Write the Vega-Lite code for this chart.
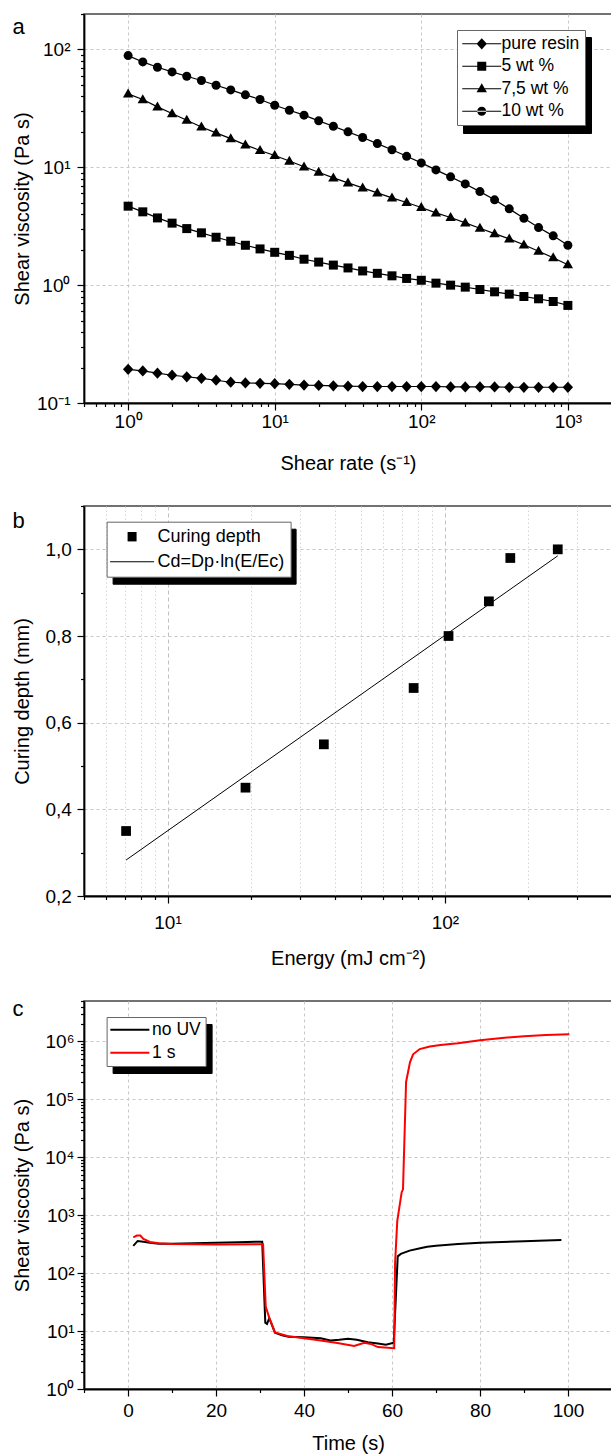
{
  "$schema": "https://vega.github.io/schema/vega-lite/v6.json",
  "background": "white",
  "padding": {"left": 11, "top": 4, "right": 0, "bottom": 0},
  "spacing": 22,
  "resolve": {
    "scale": {"x": "independent", "y": "independent", "shape": "independent", "color": "independent", "opacity": "independent"},
    "legend": {"shape": "independent", "color": "independent", "opacity": "independent"}
  },
  "config": {
    "font": "Liberation Sans",
    "view": {"stroke": "#444", "strokeWidth": 1.5},
    "axis": {
      "domainColor": "black", "domainWidth": 1.8, "tickColor": "black", "tickWidth": 1.2,
      "labelColor": "black", "titleColor": "black", "labelFontSize": 19, "titleFontSize": 20,
      "titleFontWeight": "normal", "labelFont": "Liberation Sans", "titleFont": "Liberation Sans",
      "grid": true, "gridColor": "#c8c8c8", "gridDash": [3, 3], "gridWidth": 1,
      "labelOverlap": false, "labelFlush": false, "labelBound": false
    },
    "legend": {"labelFont": "Liberation Sans", "labelColor": "black", "fillColor": "white", "strokeColor": "#666", "strokeWidth": 1},
    "title": {"font": "Liberation Sans", "fontSize": 22, "fontWeight": "normal", "color": "black", "anchor": "start", "frame": "bounds", "baseline": "alphabetic"}
  },
  "vconcat": [
    {
      "width": 528, "height": 389,
      "title": {"text": "a", "offset": -34},
      "data": {"values": [
        {"rate": 1, "viscosity": 88.7, "sample": "10 wt %"}, {"rate": 1.259, "viscosity": 78.4, "sample": "10 wt %"}, {"rate": 1.585, "viscosity": 70.6, "sample": "10 wt %"}, {"rate": 1.995, "viscosity": 64.5, "sample": "10 wt %"}, {"rate": 2.512, "viscosity": 59.3, "sample": "10 wt %"}, {"rate": 3.162, "viscosity": 54.5, "sample": "10 wt %"}, {"rate": 3.981, "viscosity": 49.7, "sample": "10 wt %"}, {"rate": 5.012, "viscosity": 45.4, "sample": "10 wt %"}, {"rate": 6.31, "viscosity": 41.2, "sample": "10 wt %"}, {"rate": 7.943, "viscosity": 37.6, "sample": "10 wt %"},
        {"rate": 10, "viscosity": 33.6, "sample": "10 wt %"}, {"rate": 12.59, "viscosity": 30.5, "sample": "10 wt %"}, {"rate": 15.85, "viscosity": 27.7, "sample": "10 wt %"}, {"rate": 19.95, "viscosity": 24.8, "sample": "10 wt %"}, {"rate": 25.12, "viscosity": 22.3, "sample": "10 wt %"}, {"rate": 31.62, "viscosity": 20.0, "sample": "10 wt %"}, {"rate": 39.81, "viscosity": 17.9, "sample": "10 wt %"}, {"rate": 50.12, "viscosity": 15.9, "sample": "10 wt %"}, {"rate": 63.1, "viscosity": 14.1, "sample": "10 wt %"}, {"rate": 79.43, "viscosity": 12.4, "sample": "10 wt %"},
        {"rate": 100, "viscosity": 10.9, "sample": "10 wt %"}, {"rate": 125.9, "viscosity": 9.51, "sample": "10 wt %"}, {"rate": 158.5, "viscosity": 8.3, "sample": "10 wt %"}, {"rate": 199.5, "viscosity": 7.23, "sample": "10 wt %"}, {"rate": 251.2, "viscosity": 6.22, "sample": "10 wt %"}, {"rate": 316.2, "viscosity": 5.3, "sample": "10 wt %"}, {"rate": 398.1, "viscosity": 4.44, "sample": "10 wt %"}, {"rate": 501.2, "viscosity": 3.7, "sample": "10 wt %"}, {"rate": 631, "viscosity": 3.08, "sample": "10 wt %"}, {"rate": 794.3, "viscosity": 2.62, "sample": "10 wt %"}, {"rate": 1000, "viscosity": 2.18, "sample": "10 wt %"},
        {"rate": 1, "viscosity": 42.0, "sample": "7,5 wt %"}, {"rate": 1.259, "viscosity": 37.6, "sample": "7,5 wt %"}, {"rate": 1.585, "viscosity": 32.6, "sample": "7,5 wt %"}, {"rate": 1.995, "viscosity": 28.6, "sample": "7,5 wt %"}, {"rate": 2.512, "viscosity": 25.1, "sample": "7,5 wt %"}, {"rate": 3.162, "viscosity": 22.0, "sample": "7,5 wt %"}, {"rate": 3.981, "viscosity": 19.6, "sample": "7,5 wt %"}, {"rate": 5.012, "viscosity": 17.5, "sample": "7,5 wt %"}, {"rate": 6.31, "viscosity": 15.5, "sample": "7,5 wt %"}, {"rate": 7.943, "viscosity": 13.9, "sample": "7,5 wt %"},
        {"rate": 10, "viscosity": 12.6, "sample": "7,5 wt %"}, {"rate": 12.59, "viscosity": 11.3, "sample": "7,5 wt %"}, {"rate": 15.85, "viscosity": 10.1, "sample": "7,5 wt %"}, {"rate": 19.95, "viscosity": 9.09, "sample": "7,5 wt %"}, {"rate": 25.12, "viscosity": 8.13, "sample": "7,5 wt %"}, {"rate": 31.62, "viscosity": 7.38, "sample": "7,5 wt %"}, {"rate": 39.81, "viscosity": 6.7, "sample": "7,5 wt %"}, {"rate": 50.12, "viscosity": 6.07, "sample": "7,5 wt %"}, {"rate": 63.1, "viscosity": 5.51, "sample": "7,5 wt %"}, {"rate": 79.43, "viscosity": 5.03, "sample": "7,5 wt %"},
        {"rate": 100, "viscosity": 4.56, "sample": "7,5 wt %"}, {"rate": 125.9, "viscosity": 4.11, "sample": "7,5 wt %"}, {"rate": 158.5, "viscosity": 3.75, "sample": "7,5 wt %"}, {"rate": 199.5, "viscosity": 3.38, "sample": "7,5 wt %"}, {"rate": 251.2, "viscosity": 3.04, "sample": "7,5 wt %"}, {"rate": 316.2, "viscosity": 2.74, "sample": "7,5 wt %"}, {"rate": 398.1, "viscosity": 2.47, "sample": "7,5 wt %"}, {"rate": 501.2, "viscosity": 2.2, "sample": "7,5 wt %"}, {"rate": 631, "viscosity": 1.94, "sample": "7,5 wt %"}, {"rate": 794.3, "viscosity": 1.71, "sample": "7,5 wt %"}, {"rate": 1000, "viscosity": 1.49, "sample": "7,5 wt %"},
        {"rate": 1, "viscosity": 4.68, "sample": "5 wt %"}, {"rate": 1.259, "viscosity": 4.19, "sample": "5 wt %"}, {"rate": 1.585, "viscosity": 3.72, "sample": "5 wt %"}, {"rate": 1.995, "viscosity": 3.36, "sample": "5 wt %"}, {"rate": 2.512, "viscosity": 3.02, "sample": "5 wt %"}, {"rate": 3.162, "viscosity": 2.78, "sample": "5 wt %"}, {"rate": 3.981, "viscosity": 2.55, "sample": "5 wt %"}, {"rate": 5.012, "viscosity": 2.36, "sample": "5 wt %"}, {"rate": 6.31, "viscosity": 2.18, "sample": "5 wt %"}, {"rate": 7.943, "viscosity": 2.03, "sample": "5 wt %"},
        {"rate": 10, "viscosity": 1.9, "sample": "5 wt %"}, {"rate": 12.59, "viscosity": 1.79, "sample": "5 wt %"}, {"rate": 15.85, "viscosity": 1.66, "sample": "5 wt %"}, {"rate": 19.95, "viscosity": 1.57, "sample": "5 wt %"}, {"rate": 25.12, "viscosity": 1.48, "sample": "5 wt %"}, {"rate": 31.62, "viscosity": 1.4, "sample": "5 wt %"}, {"rate": 39.81, "viscosity": 1.32, "sample": "5 wt %"}, {"rate": 50.12, "viscosity": 1.26, "sample": "5 wt %"}, {"rate": 63.1, "viscosity": 1.2, "sample": "5 wt %"}, {"rate": 79.43, "viscosity": 1.14, "sample": "5 wt %"},
        {"rate": 100, "viscosity": 1.1, "sample": "5 wt %"}, {"rate": 125.9, "viscosity": 1.04, "sample": "5 wt %"}, {"rate": 158.5, "viscosity": 1.0, "sample": "5 wt %"}, {"rate": 199.5, "viscosity": 0.962, "sample": "5 wt %"}, {"rate": 251.2, "viscosity": 0.919, "sample": "5 wt %"}, {"rate": 316.2, "viscosity": 0.878, "sample": "5 wt %"}, {"rate": 398.1, "viscosity": 0.839, "sample": "5 wt %"}, {"rate": 501.2, "viscosity": 0.801, "sample": "5 wt %"}, {"rate": 631, "viscosity": 0.766, "sample": "5 wt %"}, {"rate": 794.3, "viscosity": 0.727, "sample": "5 wt %"}, {"rate": 1000, "viscosity": 0.673, "sample": "5 wt %"},
        {"rate": 1, "viscosity": 0.193, "sample": "pure resin"}, {"rate": 1.259, "viscosity": 0.187, "sample": "pure resin"}, {"rate": 1.585, "viscosity": 0.179, "sample": "pure resin"}, {"rate": 1.995, "viscosity": 0.172, "sample": "pure resin"}, {"rate": 2.512, "viscosity": 0.167, "sample": "pure resin"}, {"rate": 3.162, "viscosity": 0.162, "sample": "pure resin"}, {"rate": 3.981, "viscosity": 0.156, "sample": "pure resin"}, {"rate": 5.012, "viscosity": 0.15, "sample": "pure resin"}, {"rate": 6.31, "viscosity": 0.148, "sample": "pure resin"}, {"rate": 7.943, "viscosity": 0.147, "sample": "pure resin"},
        {"rate": 10, "viscosity": 0.146, "sample": "pure resin"}, {"rate": 12.59, "viscosity": 0.144, "sample": "pure resin"}, {"rate": 15.85, "viscosity": 0.142, "sample": "pure resin"}, {"rate": 19.95, "viscosity": 0.141, "sample": "pure resin"}, {"rate": 25.12, "viscosity": 0.14, "sample": "pure resin"}, {"rate": 31.62, "viscosity": 0.139, "sample": "pure resin"}, {"rate": 39.81, "viscosity": 0.138, "sample": "pure resin"}, {"rate": 50.12, "viscosity": 0.138, "sample": "pure resin"}, {"rate": 63.1, "viscosity": 0.138, "sample": "pure resin"}, {"rate": 79.43, "viscosity": 0.138, "sample": "pure resin"},
        {"rate": 100, "viscosity": 0.138, "sample": "pure resin"}, {"rate": 125.9, "viscosity": 0.138, "sample": "pure resin"}, {"rate": 158.5, "viscosity": 0.137, "sample": "pure resin"}, {"rate": 199.5, "viscosity": 0.137, "sample": "pure resin"}, {"rate": 251.2, "viscosity": 0.137, "sample": "pure resin"}, {"rate": 316.2, "viscosity": 0.137, "sample": "pure resin"}, {"rate": 398.1, "viscosity": 0.136, "sample": "pure resin"}, {"rate": 501.2, "viscosity": 0.136, "sample": "pure resin"}, {"rate": 631, "viscosity": 0.136, "sample": "pure resin"}, {"rate": 794.3, "viscosity": 0.136, "sample": "pure resin"}, {"rate": 1000, "viscosity": 0.136, "sample": "pure resin"}
      ]},
      "encoding": {
        "x": {"field": "rate", "type": "quantitative", "scale": {"type": "log", "domain": [0.5, 2000], "nice": false},
          "axis": {"title": "Shear rate (s⁻¹)", "values": [0.5, 0.6, 0.7, 0.8, 0.9, 1, 2, 3, 4, 5, 6, 7, 8, 9, 10, 20, 30, 40, 50, 60, 70, 80, 90, 100, 200, 300, 400, 500, 600, 700, 800, 900, 1000, 2000],
            "labelExpr": "abs(log(datum.value)/LN10 - round(log(datum.value)/LN10)) < 0.001 ? '10' + ['⁻¹','⁰','¹','²','³','⁴','⁵','⁶'][round(log(datum.value)/LN10) + 1] : ''",
            "tickSize": {"condition": {"test": "abs(log(datum.value)/LN10 - round(log(datum.value)/LN10)) < 0.001", "value": 7}, "value": 3.5},
            "gridOpacity": {"condition": {"test": "abs(log(datum.value)/LN10 - round(log(datum.value)/LN10)) < 0.001", "value": 1}, "value": 0},
            "labelPadding": 2, "minExtent": 30, "maxExtent": 30, "titlePadding": 20}},
        "y": {"field": "viscosity", "type": "quantitative", "scale": {"type": "log", "domain": [0.1, 200], "nice": false},
          "axis": {"title": "Shear viscosity (Pa s)", "values": [0.1, 0.2, 0.3, 0.4, 0.5, 0.6, 0.7, 0.8, 0.9, 1, 2, 3, 4, 5, 6, 7, 8, 9, 10, 20, 30, 40, 50, 60, 70, 80, 90, 100, 200],
            "labelExpr": "abs(log(datum.value)/LN10 - round(log(datum.value)/LN10)) < 0.001 ? '10' + ['⁻¹','⁰','¹','²','³','⁴','⁵','⁶'][round(log(datum.value)/LN10) + 1] : ''",
            "tickSize": {"condition": {"test": "abs(log(datum.value)/LN10 - round(log(datum.value)/LN10)) < 0.001", "value": 7}, "value": 3.5},
            "gridOpacity": {"condition": {"test": "abs(log(datum.value)/LN10 - round(log(datum.value)/LN10)) < 0.001", "value": 1}, "value": 0},
            "labelPadding": 7, "minExtent": 45, "maxExtent": 45, "titlePadding": 6.6}}
      },
      "layer": [
        {"mark": {"type": "line", "color": "black", "strokeWidth": 1.2}, "encoding": {"detail": {"field": "sample"}}},
        {"mark": {"type": "point", "filled": true, "color": "black", "opacity": 1, "size": 81},
          "encoding": {"shape": {"field": "sample", "type": "nominal",
            "scale": {"domain": ["pure resin", "5 wt %", "7,5 wt %", "10 wt %"], "range": ["M0,-1.25L1.15,0L0,1.25L-1.15,0Z", "square", "M0,-1.2L1.15,0.8L-1.15,0.8Z", "circle"]},
            "legend": null}}},
        {"transform": [{"filter": "false"}],
          "mark": {"type": "point", "filled": true, "color": "black", "opacity": 1, "size": 81},
          "encoding": {
            "shape": {"field": "sample", "type": "nominal",
              "scale": {"domain": ["pure resin", "5 wt %", "7,5 wt %", "10 wt %"], "range": [
                "M-1.89,-0.12H6.777V0.12H-1.89ZM2.443,-1.25L3.593,0L2.443,1.25L1.293,0Z",
                "M-1.89,-0.12H6.777V0.12H-1.89ZM1.443,-1H3.443V1H1.443Z",
                "M-1.89,-0.12H6.777V0.12H-1.89ZM2.443,-1.2L3.593,0.8L1.293,0.8Z",
                "M-1.89,-0.12H6.777V0.12H-1.89ZM1.443,0A1,1,0,1,0,3.443,0A1,1,0,1,0,1.443,0Z"]},
              "legend": {"orient": "none", "legendX": 373, "legendY": 16, "zindex": 3, "title": null, "padding": 5, "labelFontSize": 17.5, "labelOffset": 22, "rowPadding": 3.5, "symbolSize": 81, "symbolFillColor": "black", "symbolOpacity": 1, "symbolStrokeWidth": 0}}
          }},
        {"transform": [{"filter": "false"}],
          "mark": {"type": "point", "filled": true, "color": "black", "size": 81},
          "encoding": {
            "opacity": {"field": "shadowkey", "type": "nominal",
              "scale": {"domain": ["s1", "s2", "s3", "s4"], "range": [1, 1, 1, 1]},
              "legend": {"orient": "none", "legendX": 379, "legendY": 23, "zindex": 2, "title": null, "padding": 5, "labelFontSize": 17.5, "labelOffset": 99.8, "rowPadding": 3.5, "symbolSize": 81, "labelExpr": "''",
                "symbolType": "M-1.89,-1.95H6.777V1.95H-1.89Z",
                "fillColor": "black", "strokeColor": "black", "symbolFillColor": "black", "symbolStrokeColor": "black", "symbolStrokeWidth": 0}}
          }}
      ],
      "resolve": {"scale": {"shape": "independent"}, "legend": {"shape": "independent"}}
    },
    {
      "width": 528, "height": 390,
      "title": {"text": "b", "offset": -36},
      "encoding": {
        "x": {"field": "energy", "type": "quantitative", "scale": {"type": "log", "domain": [5, 400], "nice": false},
          "axis": {"title": "Energy (mJ cm⁻²)", "values": [5, 6, 7, 8, 9, 10, 20, 30, 40, 50, 60, 70, 80, 90, 100, 200, 300, 400],
            "labelExpr": "abs(log(datum.value)/LN10 - round(log(datum.value)/LN10)) < 0.001 ? '10' + ['⁻¹','⁰','¹','²','³','⁴','⁵','⁶'][round(log(datum.value)/LN10) + 1] : ''",
            "tickSize": {"condition": {"test": "abs(log(datum.value)/LN10 - round(log(datum.value)/LN10)) < 0.001", "value": 7}, "value": 3.5},
            "gridDash": {"condition": {"test": "abs(log(datum.value)/LN10 - round(log(datum.value)/LN10)) < 0.001", "value": [4, 3]}, "value": [1.5, 2.5]},
            "gridColor": {"condition": {"test": "abs(log(datum.value)/LN10 - round(log(datum.value)/LN10)) < 0.001", "value": "#c0c0c0"}, "value": "#d6d6d6"},
            "labelPadding": 10.6, "minExtent": 30, "maxExtent": 30, "titlePadding": 22}},
        "y": {"field": "depth", "type": "quantitative", "scale": {"domain": [0.2, 1.1], "nice": false, "zero": false},
          "axis": {"title": "Curing depth (mm)", "values": [0.2, 0.3, 0.4, 0.5, 0.6, 0.7, 0.8, 0.9, 1.0, 1.1],
            "labelExpr": "round(datum.value*10) % 2 == 0 ? replace(format(datum.value, '.1f'), '.', ',') : ''",
            "tickSize": {"condition": {"test": "round(datum.value*10) % 2 == 0", "value": 7}, "value": 3.5},
            "gridOpacity": {"condition": {"test": "round(datum.value*10) % 2 == 0", "value": 1}, "value": 0},
            "labelPadding": 5.7, "minExtent": 45, "maxExtent": 45, "titlePadding": 6.6}}
      },
      "layer": [
        {"data": {"values": [{"energy": 7.09, "depth": 0.283}, {"energy": 255, "depth": 0.985}]},
          "mark": {"type": "line", "color": "black", "strokeWidth": 1}, "encoding": {}},
        {"data": {"values": [
            {"energy": 7.09, "depth": 0.35, "series": "Curing depth"}, {"energy": 19.1, "depth": 0.45, "series": "Curing depth"}, {"energy": 36.6, "depth": 0.55, "series": "Curing depth"}, {"energy": 77.1, "depth": 0.68, "series": "Curing depth"},
            {"energy": 103, "depth": 0.8, "series": "Curing depth"}, {"energy": 144, "depth": 0.88, "series": "Curing depth"}, {"energy": 172, "depth": 0.98, "series": "Curing depth"}, {"energy": 255, "depth": 1.0, "series": "Curing depth"}]},
          "mark": {"type": "point", "shape": "square", "filled": true, "color": "black", "opacity": 1, "size": 95},
          "encoding": {}},
        {"data": {"values": [
            {"energy": 7.09, "depth": 0.35, "series": "Curing depth"}]},
          "transform": [{"filter": "false"}],
          "mark": {"type": "point", "filled": true, "color": "black", "opacity": 1, "size": 81},
          "encoding": {
            "shape": {"field": "series", "type": "nominal",
              "scale": {"domain": ["Curing depth", "Cd=Dp·ln(E/Ec)"], "range": ["M1.329,-1.05H3.329V1.05H1.329Z", "M-2.56,-0.12H7.218V0.12H-2.56Z"]},
              "legend": {"orient": "none", "legendX": 22.6, "legendY": 15.7, "zindex": 3, "title": null, "padding": 6, "labelFontSize": 18, "labelOffset": 27, "rowPadding": 7, "symbolSize": 81, "symbolFillColor": "black", "symbolOpacity": 1, "symbolStrokeWidth": 0}}
          }},
        {"data": {"values": [
            {"energy": 7.09, "depth": 0.35, "series": "Curing depth"}]},
          "transform": [{"filter": "false"}],
          "mark": {"type": "point", "filled": true, "color": "black", "size": 81},
          "encoding": {
            "opacity": {"field": "shadowkey", "type": "nominal",
              "scale": {"domain": ["s1", "s2"], "range": [1, 1]},
              "legend": {"orient": "none", "legendX": 28.6, "legendY": 22.7, "zindex": 2, "title": null, "padding": 6, "labelFontSize": 18, "labelOffset": 152.5, "rowPadding": 7, "symbolSize": 81, "labelExpr": "''",
                "symbolType": "M-2.56,-2H7.218V2H-2.56Z",
                "fillColor": "black", "strokeColor": "black", "symbolFillColor": "black", "symbolStrokeColor": "black", "symbolStrokeWidth": 0}}
          }}
      ]
    },
    {
      "width": 528, "height": 388,
      "title": {"text": "c", "offset": -29},
      "data": {"values": [
        {"time": 1.2, "eta": 295, "condition": "no UV"}, {"time": 2.2, "eta": 360, "condition": "no UV"}, {"time": 3.5, "eta": 350, "condition": "no UV"}, {"time": 5, "eta": 335, "condition": "no UV"}, {"time": 7, "eta": 322, "condition": "no UV"}, {"time": 10, "eta": 322, "condition": "no UV"}, {"time": 15, "eta": 328, "condition": "no UV"}, {"time": 20, "eta": 335, "condition": "no UV"}, {"time": 25, "eta": 342, "condition": "no UV"}, {"time": 30.5, "eta": 350, "condition": "no UV"},
        {"time": 31.2, "eta": 14, "condition": "no UV"}, {"time": 31.6, "eta": 13.3, "condition": "no UV"}, {"time": 32.1, "eta": 16.7, "condition": "no UV"}, {"time": 33.4, "eta": 9.4, "condition": "no UV"}, {"time": 35, "eta": 8.5, "condition": "no UV"}, {"time": 36.5, "eta": 8.0, "condition": "no UV"}, {"time": 40, "eta": 7.8, "condition": "no UV"}, {"time": 43.8, "eta": 7.5, "condition": "no UV"}, {"time": 46, "eta": 6.9, "condition": "no UV"}, {"time": 48, "eta": 7.1, "condition": "no UV"},
        {"time": 50, "eta": 7.4, "condition": "no UV"}, {"time": 52, "eta": 7.1, "condition": "no UV"}, {"time": 54.5, "eta": 6.4, "condition": "no UV"}, {"time": 56.8, "eta": 6.1, "condition": "no UV"}, {"time": 58.6, "eta": 5.8, "condition": "no UV"}, {"time": 60.4, "eta": 6.3, "condition": "no UV"}, {"time": 61.3, "eta": 195, "condition": "no UV"}, {"time": 62, "eta": 215, "condition": "no UV"}, {"time": 64, "eta": 245, "condition": "no UV"}, {"time": 66.4, "eta": 270, "condition": "no UV"},
        {"time": 68, "eta": 285, "condition": "no UV"}, {"time": 70, "eta": 298, "condition": "no UV"}, {"time": 75, "eta": 318, "condition": "no UV"}, {"time": 80, "eta": 335, "condition": "no UV"}, {"time": 85, "eta": 346, "condition": "no UV"}, {"time": 90, "eta": 355, "condition": "no UV"}, {"time": 95, "eta": 365, "condition": "no UV"}, {"time": 98.5, "eta": 375, "condition": "no UV"},
        {"time": 1.2, "eta": 415, "condition": "1 s"}, {"time": 2, "eta": 445, "condition": "1 s"}, {"time": 2.8, "eta": 445, "condition": "1 s"}, {"time": 3.5, "eta": 390, "condition": "1 s"}, {"time": 5, "eta": 345, "condition": "1 s"}, {"time": 7, "eta": 328, "condition": "1 s"}, {"time": 10, "eta": 320, "condition": "1 s"}, {"time": 20, "eta": 312, "condition": "1 s"}, {"time": 30.7, "eta": 315, "condition": "1 s"}, {"time": 31.3, "eta": 26.5, "condition": "1 s"},
        {"time": 32, "eta": 18, "condition": "1 s"}, {"time": 33.4, "eta": 9.5, "condition": "1 s"}, {"time": 36.2, "eta": 8.2, "condition": "1 s"}, {"time": 40, "eta": 7.5, "condition": "1 s"}, {"time": 43.8, "eta": 6.9, "condition": "1 s"}, {"time": 47.6, "eta": 6.2, "condition": "1 s"}, {"time": 51.4, "eta": 5.55, "condition": "1 s"}, {"time": 53.7, "eta": 6.3, "condition": "1 s"}, {"time": 55.2, "eta": 6.0, "condition": "1 s"}, {"time": 56.8, "eta": 5.3, "condition": "1 s"},
        {"time": 60.5, "eta": 5.05, "condition": "1 s"}, {"time": 60.7, "eta": 150, "condition": "1 s"}, {"time": 61.2, "eta": 800, "condition": "1 s"}, {"time": 62.2, "eta": 2500, "condition": "1 s"}, {"time": 62.5, "eta": 2800, "condition": "1 s"}, {"time": 63.2, "eta": 200000, "condition": "1 s"}, {"time": 64.1, "eta": 440000, "condition": "1 s"}, {"time": 64.8, "eta": 600000, "condition": "1 s"}, {"time": 66.3, "eta": 740000, "condition": "1 s"}, {"time": 68.6, "eta": 820000, "condition": "1 s"},
        {"time": 71, "eta": 870000, "condition": "1 s"}, {"time": 75, "eta": 930000, "condition": "1 s"}, {"time": 80, "eta": 1050000, "condition": "1 s"}, {"time": 85, "eta": 1150000, "condition": "1 s"}, {"time": 90, "eta": 1230000, "condition": "1 s"}, {"time": 95, "eta": 1290000, "condition": "1 s"}, {"time": 100.3, "eta": 1330000, "condition": "1 s"}
      ]},
      "encoding": {
        "x": {"field": "time", "type": "quantitative", "scale": {"domain": [-10, 110], "nice": false, "zero": false},
          "axis": {"title": "Time (s)", "values": [-10, 0, 10, 20, 30, 40, 50, 60, 70, 80, 90, 100, 110],
            "labelExpr": "datum.value % 20 == 0 ? format(datum.value, 'd') : ''",
            "tickSize": {"condition": {"test": "datum.value % 20 == 0", "value": 7}, "value": 3.5},
            "gridOpacity": {"condition": {"test": "datum.value % 20 == 0", "value": 1}, "value": 0},
            "labelPadding": 5.6, "minExtent": 30, "maxExtent": 30, "titlePadding": 14.4}},
        "y": {"field": "eta", "type": "quantitative", "scale": {"type": "log", "domain": [1, 5000000], "nice": false},
          "axis": {"title": "Shear viscosity (Pa s)", "values": [1, 2, 3, 4, 5, 6, 7, 8, 9, 10, 20, 30, 40, 50, 60, 70, 80, 90, 100, 200, 300, 400, 500, 600, 700, 800, 900, 1000, 2000, 3000, 4000, 5000, 6000, 7000, 8000, 9000, 10000, 20000, 30000, 40000, 50000, 60000, 70000, 80000, 90000, 100000, 200000, 300000, 400000, 500000, 600000, 700000, 800000, 900000, 1000000, 2000000, 3000000, 4000000, 5000000],
            "labelExpr": "abs(log(datum.value)/LN10 - round(log(datum.value)/LN10)) < 0.001 ? '10' + ['⁻¹','⁰','¹','²','³','⁴','⁵','⁶'][round(log(datum.value)/LN10) + 1] : ''",
            "tickSize": {"condition": {"test": "abs(log(datum.value)/LN10 - round(log(datum.value)/LN10)) < 0.001", "value": 7}, "value": 3.5},
            "gridOpacity": {"condition": {"test": "abs(log(datum.value)/LN10 - round(log(datum.value)/LN10)) < 0.001", "value": 1}, "value": 0},
            "labelPadding": 3, "minExtent": 45, "maxExtent": 45, "titlePadding": 6.6}}
      },
      "layer": [
        {"mark": {"type": "line", "strokeWidth": 2},
          "encoding": {
            "color": {"field": "condition", "type": "nominal", "scale": {"domain": ["no UV", "1 s"], "range": ["black", "#ff0000"]},
              "legend": {"orient": "none", "legendX": 22.6, "legendY": 16, "zindex": 3, "title": null, "padding": 4, "labelFontSize": 17.5, "labelOffset": 24, "rowPadding": 4,
                "symbolType": "M-2,0H6.667", "symbolSize": 81, "symbolStrokeWidth": 2, "symbolOpacity": 1}}}},
        {"transform": [{"filter": "false"}],
          "mark": {"type": "point", "filled": true, "color": "black", "size": 81},
          "encoding": {
            "opacity": {"field": "shadowkey", "type": "nominal",
              "scale": {"domain": ["s1", "s2"], "range": [1, 1]},
              "legend": {"orient": "none", "legendX": 28.6, "legendY": 23, "zindex": 2, "title": null, "padding": 4, "labelFontSize": 17.5, "labelOffset": 72.6, "rowPadding": 4, "labelExpr": "''",
                "symbolType": "M-2,-1.95H6.667V1.95H-2Z", "symbolSize": 81,
                "fillColor": "black", "strokeColor": "black", "symbolFillColor": "black", "symbolStrokeColor": "black", "symbolStrokeWidth": 0}}}}
      ]
    }
  ]
}
